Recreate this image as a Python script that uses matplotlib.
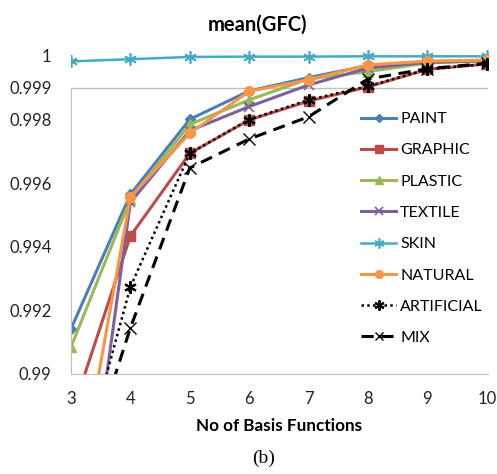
import numpy as np
import matplotlib.pyplot as plt

# number of basis functions
n_basis = [3, 4, 5, 6, 7, 8, 9, 10]

# mean GFC per material class
paint = [0.99142, 0.99565, 0.99801, 0.99890, 0.99932, 0.99970, 0.99982, 0.99986]
graphic = [0.98868, 0.99434, 0.99694, 0.99799, 0.99858, 0.99903, 0.99958, 0.99975]
plastic = [0.99085, 0.99550, 0.99785, 0.99862, 0.99928, 0.99951, 0.99978, 0.99985]
textile = [0.98180, 0.99540, 0.99765, 0.99841, 0.99909, 0.99962, 0.99980, 0.99985]
skin = [0.99983, 0.99990, 0.99997, 0.99998, 0.99998, 0.99999, 0.99999, 0.99999]
natural = [0.98513, 0.99557, 0.99757, 0.99889, 0.99925, 0.99972, 0.99984, 0.99987]
artificial = [0.98588, 0.99274, 0.99694, 0.99800, 0.99862, 0.99905, 0.99958, 0.99975]
mix = [0.98566, 0.99145, 0.99648, 0.99739, 0.99809, 0.99928, 0.99960, 0.99977]

yticks = [0.99, 0.992, 0.994, 0.996, 0.998, 0.999, 1.0]
ytick_labels = ['0.99', '0.992', '0.994', '0.996', '0.998', '0.999', '1']

plt.rcParams['font.family'] = ['Lato', 'DejaVu Sans']

fig = plt.figure(figsize=(4.97, 4.74), dpi=100)
ax = fig.add_axes([71 / 497, 100 / 474, 417 / 497, 324 / 474])

lw = 2.2
ax.plot(n_basis, paint, color='#4A7EBB', lw=lw, marker='D', ms=5.5, label='PAINT')
ax.plot(n_basis, graphic, color='#BE4B48', lw=lw, marker='s', ms=6.5, label='GRAPHIC')
ax.plot(n_basis, plastic, color='#98B954', lw=lw, marker='^', ms=7, label='PLASTIC')
ax.plot(n_basis, textile, color='#7D60A0', lw=lw, marker='x', ms=7, mew=1.2, label='TEXTILE')
ax.plot(n_basis, skin, color='#46AAC5', lw=1.8, marker=(6, 2, 0), ms=9, mew=1.2, label='SKIN')
ax.plot(n_basis, natural, color='#F79646', lw=lw, marker='o', ms=7, label='NATURAL')
ax.plot(n_basis, artificial, color='black', lw=1.8, ls=(0, (1, 1.3)), marker=(6, 2, 0),
        ms=9, mew=1.5, label='ARTIFICIAL')
ax.plot(n_basis, mix, color='black', lw=2.2, ls=(0, (4, 2.5)), marker='x', ms=8, mew=1,
        label='MIX')

ax.set_xlim(3, 10.02)
ax.set_ylim(0.99, 0.99 + 324 / 31800)
ax.axhline(0.999, color='#BFBFBF', lw=1, zorder=0)

for s in ['top', 'right']:
    ax.spines[s].set_visible(False)
ax.spines['left'].set_bounds(0.99, 0.999)
ax.spines['left'].set_color('#BFBFBF')
ax.spines['bottom'].set_color('#BFBFBF')

ax.set_xticks(n_basis)
ax.set_yticks(yticks)
ax.set_yticklabels(ytick_labels)
ax.tick_params(length=0, labelsize=12, colors='#222222', pad=12)
ax.tick_params(axis='y', pad=14)

ax.set_xlabel('No of Basis Functions', fontsize=12.3, fontweight='bold', labelpad=8)
fig.text(0.518, 0.947, 'mean(GFC)', fontsize=14.5, fontweight='bold', ha='center', va='center')
fig.text(0.53, 0.034, '(b)', fontsize=14, family='Liberation Serif', ha='center', va='center')

leg = ax.legend(loc='upper left', bbox_to_anchor=(361 / 497, 1 - 112 / 474),
                bbox_transform=fig.transFigure, frameon=False, fontsize=11.5,
                handlelength=2.2, handletextpad=0.25, labelspacing=1.07, borderpad=0,
                borderaxespad=0, markerscale=0.8)

fig.savefig('out.png', dpi=100)
